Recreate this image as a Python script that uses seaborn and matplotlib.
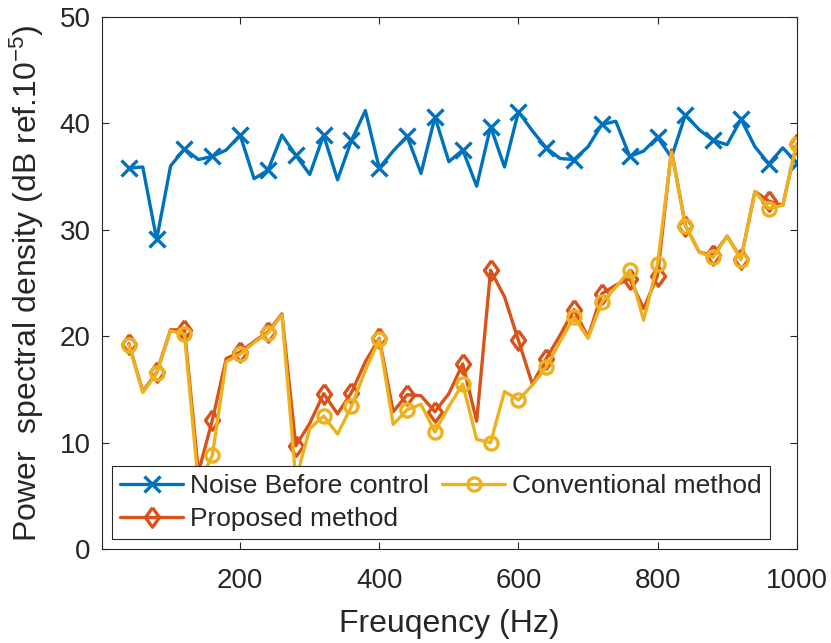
import numpy as np
import pandas as pd
import matplotlib
matplotlib.use("Agg")
import matplotlib.pyplot as plt
import seaborn as sns

freq = [40, 60, 80, 100, 120, 140, 160, 180, 200, 220, 240, 260, 280, 300, 320,
        340, 360, 380, 400, 420, 440, 460, 480, 500, 520, 540, 560, 580, 600, 620,
        640, 660, 680, 700, 720, 740, 760, 780, 800, 820, 840, 860, 880, 900, 920,
        940, 960, 980, 1000]

noise_before = [35.8, 35.9, 29.1, 36.0, 37.6, 36.6, 36.9, 37.5, 38.9, 34.8,
                35.6, 38.9, 37.0, 35.2, 38.9, 34.7, 38.4, 41.2, 35.8, 37.4,
                38.8, 35.3, 40.6, 36.4, 37.5, 34.1, 39.7, 35.9, 41.1, 39.3,
                37.7, 36.7, 36.6, 37.8, 39.9, 40.2, 36.9, 37.4, 38.7, 36.8,
                40.8, 39.4, 38.4, 38.0, 40.4, 37.8, 36.2, 37.7, 36.3]

proposed = [19.3, 14.8, 16.6, 20.6, 20.6, 7.2, 12.1, 17.9, 18.5, 19.5,
            20.4, 22.1, 9.7, 11.8, 14.6, 12.7, 14.7, 17.6, 19.8, 12.9,
            14.5, 14.4, 12.9, 14.6, 17.4, 12.0, 26.2, 23.7, 19.6, 15.5,
            17.9, 20.1, 22.5, 19.9, 24.0, 24.8, 25.4, 22.6, 25.7, 37.5,
            30.4, 27.9, 27.6, 29.4, 27.3, 33.6, 32.7, 32.3, 38.1]

conventional = [19.2, 14.7, 16.5, 20.5, 20.2, 6.0, 8.8, 17.6, 18.3, 19.4,
                20.3, 22.0, 6.5, 11.3, 12.5, 10.8, 13.4, 16.8, 19.7, 11.7,
                13.1, 13.6, 11.0, 13.4, 15.5, 10.3, 10.0, 14.8, 14.0, 15.4,
                17.1, 19.5, 21.8, 19.8, 23.2, 24.6, 26.2, 21.5, 26.8, 37.3,
                30.4, 27.9, 27.4, 29.4, 27.2, 33.6, 32.0, 32.3, 38.1]

x_ticks = [200, 400, 600, 800, 1000]
y_ticks = [0, 10, 20, 30, 40, 50]

sns.set_style("ticks")
plt.rcParams['font.family'] = ['Liberation Sans', 'DejaVu Sans']
plt.rcParams['mathtext.fontset'] = 'custom'
plt.rcParams['mathtext.rm'] = 'Liberation Sans'
plt.rcParams['mathtext.it'] = 'Liberation Sans'

df = pd.DataFrame({"freq": freq, "before": noise_before,
                   "proposed": proposed, "conventional": conventional})

fig = plt.figure(figsize=(8.31, 6.43), dpi=100)
ax = fig.add_axes([0.1224, 0.1462, 0.8363, 0.8274])

blue = "#0072BD"
orange = "#D95319"
yellow = "#EDB120"
lw = 2.4
mev = slice(0, None, 2)
diamond = [(0, 1), (0.72, 0), (0, -1), (-0.72, 0), (0, 1)]

sns.lineplot(data=df, x="freq", y="before", ax=ax, color=blue, linewidth=lw,
             marker="x", markersize=11, markeredgewidth=lw, markeredgecolor=blue,
             markevery=mev, label="Noise Before control")
sns.lineplot(data=df, x="freq", y="proposed", ax=ax, color=orange, linewidth=lw,
             marker=diamond, markersize=14, markeredgewidth=lw, markerfacecolor="none",
             markeredgecolor=orange, markevery=mev, label="Proposed method")
sns.lineplot(data=df, x="freq", y="conventional", ax=ax, color=yellow, linewidth=lw,
             marker="o", markersize=9.5, markeredgewidth=lw, markerfacecolor="none",
             markeredgecolor=yellow, markevery=mev, label="Conventional method")

ax.set_xlim(1, 1000)
ax.set_ylim(0, 50)
ax.set_xticks(x_ticks)
ax.set_yticks(y_ticks)
ax.tick_params(axis='both', direction='in', length=5, width=0.8, colors='#262626',
               labelsize=20, top=True, right=True)
ax.tick_params(axis='x', pad=14)
ax.tick_params(axis='y', pad=8)
for s in ax.spines.values():
    s.set_visible(True)
    s.set_linewidth(0.8)
    s.set_color('#262626')

ax.set_xlabel("Freuqency (Hz)", fontsize=23, color='#262626')
ax.set_ylabel(r"Power  spectral density (dB ref.10$^{-5}$)", fontsize=23, color='#262626')
ax.xaxis.set_label_coords(0.5, -0.112)
ax.yaxis.set_label_coords(-0.08, 0.5)

leg = ax.legend(loc='upper left', bbox_to_anchor=(0.015, 0.156), ncol=2,
                fontsize=19, frameon=True, fancybox=False, edgecolor='#262626',
                framealpha=1, borderaxespad=0, handlelength=2.4,
                handletextpad=0.25, columnspacing=0.5, labelspacing=0.35,
                borderpad=0.3)
leg.get_frame().set_linewidth(0.8)

fig.savefig("out.png", dpi=100)
